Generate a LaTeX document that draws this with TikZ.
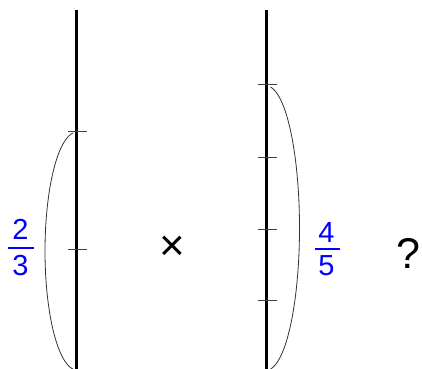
\documentclass[tikz,border=0pt]{standalone}
\usepackage{fontspec}
\setmainfont{Liberation Sans}
\begin{document}
\begin{tikzpicture}[x=1pt,y=-1pt,
  axisline/.style={line width=2.3pt,black},
  tickline/.style={line width=0.9pt,black!75},
  brace/.style={line width=0.8pt,black!80},
  fracdigit/.style={text=blue,inner sep=0pt,font=\fontsize{29}{30}\selectfont},
  fracbar/.style={line width=1.3pt,blue},
  timestext/.style={inner sep=0pt,font=\fontsize{44}{46}\selectfont},
  questtext/.style={inner sep=0pt,font=\fontsize{43}{45}\selectfont}]
\useasboundingbox (0,0) rectangle (422,368);
% left number line
\coordinate (Ltop) at (76.5,10);
\coordinate (Lbot) at (76.5,370);
\draw[axisline] (Ltop) -- (Lbot);
\draw[tickline] (68,131) -- (87,131);
\draw[tickline] (68,249) -- (87,249);
\draw[brace,shift={(77,251)}] plot[domain=97:263,samples=80] ({32*cos(\x)},{119*sin(\x)});
% right number line
\coordinate (Rtop) at (266.5,10);
\coordinate (Rbot) at (266.5,370);
\draw[axisline] (Rtop) -- (Rbot);
\draw[tickline] (258,84) -- (277,84);
\draw[tickline] (258,157) -- (277,157);
\draw[tickline] (258,229) -- (277,229);
\draw[tickline] (258,300) -- (277,300);
\draw[brace,shift={(266.5,228)}] plot[domain=-83:83,samples=80] ({33*cos(\x)},{142*sin(\x)});
% fractions
\node[fracdigit,anchor=base] (n1) at (20.5,239) {2};
\node[fracdigit,anchor=base] (d1) at (20.5,275) {3};
\draw[fracbar] (8,248) -- (34,248);
\node[fracdigit,anchor=base] (n2) at (326.5,242) {4};
\node[fracdigit,anchor=base] (d2) at (326.5,275) {5};
\draw[fracbar] (314.5,249) -- (339.5,249);
% operators
\node[timestext] (times) at (172,248) {×};
\node[questtext] (quest) at (408,253.5) {?};
\end{tikzpicture}
\end{document}
